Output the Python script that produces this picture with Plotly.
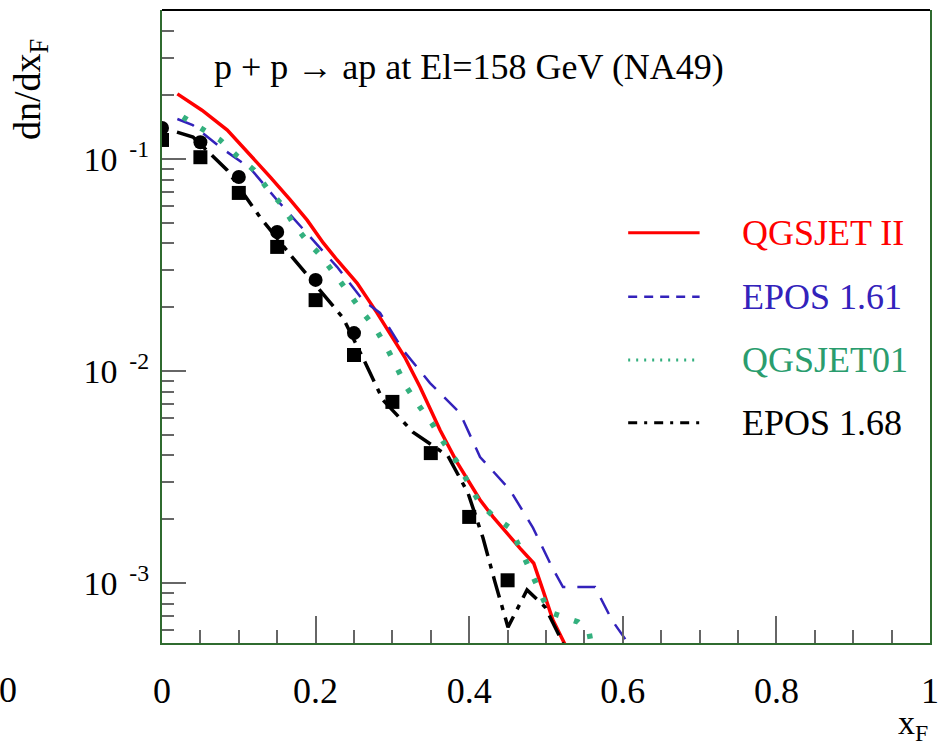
import plotly.graph_objects as go

# ---------------- data ----------------
qgs2_x = [0.020, 0.052, 0.085, 0.115, 0.141, 0.167, 0.189, 0.210, 0.228, 0.254, 0.280,
          0.316, 0.336, 0.362, 0.384, 0.414, 0.431, 0.466, 0.484, 0.496, 0.509, 0.525]
qgs2_y = [0.203, 0.170, 0.137, 0.1045, 0.0822, 0.0641, 0.0515, 0.0402, 0.0334, 0.0260, 0.0188,
          0.01164, 0.00841, 0.00527, 0.00372, 0.00247, 0.00205, 0.00146, 0.00124, 0.000926,
          0.000669, 0.000511]

epos161_x = [0.020, 0.040, 0.0755, 0.1146, 0.1497, 0.1888, 0.2279, 0.2617, 0.2839, 0.3138,
             0.3490, 0.3880, 0.4141, 0.4531, 0.4831, 0.5078, 0.5221, 0.5638, 0.5859, 0.6068]
epos161_y = [0.1545, 0.1446, 0.114, 0.0907, 0.0641, 0.0448, 0.0310, 0.0216, 0.0188, 0.01256,
             0.00877, 0.00633, 0.00393, 0.00275, 0.00182, 0.00119, 0.000957, 0.000957,
             0.000668, 0.000521]

qgs01_x = [0.0273, 0.0534, 0.0755, 0.0977, 0.1198, 0.1367, 0.1563, 0.1706, 0.1888, 0.2083,
           0.2253, 0.2422, 0.2591, 0.2773, 0.2930, 0.3060, 0.3190, 0.3359, 0.3529, 0.3672,
           0.3841, 0.3984, 0.4128, 0.4323, 0.4531, 0.4674, 0.4792, 0.5039, 0.5417, 0.5560,
           0.5586]
qgs01_y = [0.1578, 0.1386, 0.1230, 0.1033, 0.0887, 0.0729, 0.0607, 0.0499, 0.0410, 0.0345,
           0.0287, 0.0236, 0.0194, 0.0160, 0.01283, 0.01032, 0.00832, 0.00676, 0.00556,
           0.00457, 0.00372, 0.00299, 0.00241, 0.00205, 0.00182, 0.00143, 0.00114, 0.000730,
           0.000655, 0.000587, 0.000521]

epos168_x = [0.0195, 0.0404, 0.0846, 0.1276, 0.1706, 0.2357, 0.2617, 0.2878, 0.3268, 0.3724,
             0.3984, 0.4180, 0.4336, 0.4505, 0.4753, 0.4987, 0.5221]
epos168_y = [0.134, 0.127, 0.0888, 0.0532, 0.0341, 0.0178, 0.01151, 0.00729, 0.00515, 0.00397,
             0.00266, 0.00163, 0.00101, 0.000619, 0.000927, 0.000771, 0.000521]

circ_x = [0.0, 0.05, 0.10, 0.15, 0.20, 0.25]
circ_y = [0.140, 0.120, 0.0822, 0.0453, 0.0269, 0.0151]
sq_x = [0.0, 0.05, 0.10, 0.15, 0.20, 0.25, 0.30, 0.35, 0.40, 0.45]
sq_y = [0.123, 0.102, 0.0692, 0.0385, 0.0216, 0.0119, 0.00715, 0.00410, 0.00205, 0.00103]

legend_names = ["QGSJET II", "EPOS 1.61", "QGSJET01", "EPOS 1.68"]
y_tickvals = [0.1, 0.01, 0.001]
y_ticktext = ["10<sup>  -1</sup>", "10<sup>  -2</sup>", "10<sup>  -3</sup>"]
x_tickvals = [0, 0.2, 0.4, 0.6, 0.8, 1.0]
x_ticktext = ["0", "0.2", "0.4", "0.6", "0.8", "1"]

# ---------------- styles ----------------
FONT = "'Liberation Serif', 'Times New Roman', Times, serif"
RED = "#ff0000"
BLUE = "#3322bb"
GREEN = "#33b07e"
BLACK = "#000000"
AXGREEN = "#2f6b2f"

styles = [
    dict(color=RED, width=3.5, dash="solid"),
    dict(color=BLUE, width=2.5, dash="18px,12px"),
    dict(color=GREEN, width=5.5, dash="5px,16px"),
    dict(color=BLACK, width=3.5, dash="22px,8px,5px,8px"),
]
legend_styles = [
    dict(color=RED, width=3, dash="solid"),
    dict(color=BLUE, width=2.5, dash="9px,7px"),
    dict(color=GREEN, width=3, dash="2px,6px"),
    dict(color=BLACK, width=3, dash="9px,7px,3px,7px"),
]
series = [(qgs2_x, qgs2_y), (epos161_x, epos161_y), (qgs01_x, qgs01_y), (epos168_x, epos168_y)]
text_colors = [RED, BLUE, "#2a9d6e", BLACK]

fig = go.Figure()
for (xs, ys), st, nm in zip(series, styles, legend_names):
    fig.add_trace(go.Scatter(x=xs, y=ys, mode="lines", name=nm, line=st, showlegend=False))

fig.add_trace(go.Scatter(x=circ_x, y=circ_y, mode="markers", name="NA49 (circles)", cliponaxis=True,
                         marker=dict(symbol="circle", size=14, color=BLACK), showlegend=False))
fig.add_trace(go.Scatter(x=sq_x, y=sq_y, mode="markers", name="NA49 (squares)", cliponaxis=True,
                         marker=dict(symbol="square", size=14, color=BLACK), showlegend=False))

# minor y ticks
minor_y = []
for dec in [1e-4, 1e-3, 1e-2, 1e-1]:
    for k in range(2, 10):
        v = k * dec
        if 5.2e-4 <= v <= 0.505:
            minor_y.append(v)

# ---------------- manual legend ----------------
leg_y = [0.648, 0.547, 0.447, 0.348]
shapes = []
annotations = []
for yy, st, nm, tc in zip(leg_y, legend_styles, legend_names, text_colors):
    shapes.append(dict(type="line", xref="paper", yref="paper", x0=0.607, x1=0.700, y0=yy, y1=yy,
                       line=st))
    annotations.append(dict(xref="paper", yref="paper", x=0.753, y=yy, xanchor="left", yanchor="middle",
                            text=nm, showarrow=False, font=dict(family=FONT, size=36, color=tc)))

# top frame line (black)
shapes.append(dict(type="line", xref="paper", yref="paper", x0=0, x1=1, y0=1, y1=1,
                   line=dict(color=BLACK, width=2)))

annotations += [
    dict(xref="paper", yref="paper", x=0.065, y=0.91, xanchor="left", yanchor="middle",
         text="p + p \u2192 ap at El=158 GeV (NA49)", showarrow=False,
         font=dict(family=FONT, size=36, color=BLACK)),
    dict(xref="paper", yref="paper", x=-0.172, y=0.875, xanchor="center", yanchor="middle",
         text="dn/dx<sub>F</sub>", textangle=-90, showarrow=False,
         font=dict(family=FONT, size=38, color=BLACK)),
    dict(xref="paper", yref="paper", x=1.0, y=-0.13, xanchor="right", yanchor="middle",
         text="x<sub>F</sub>", showarrow=False, font=dict(family=FONT, size=34, color=BLACK)),
    dict(xref="paper", yref="paper", x=-0.201, y=-0.074, xanchor="center", yanchor="middle",
         text="0", showarrow=False, font=dict(family=FONT, size=36, color=BLACK)),
]

fig.update_layout(
    width=949, height=749,
    margin=dict(l=162, r=19, t=10, b=106),
    paper_bgcolor="white", plot_bgcolor="white",
    showlegend=False,
    shapes=shapes, annotations=annotations,
    font=dict(family=FONT, color=BLACK),
)

fig.update_xaxes(
    range=[0, 1], showgrid=False, zeroline=False,
    showline=True, linecolor=AXGREEN, linewidth=2, mirror=False,
    ticks="inside", ticklen=27, tickwidth=1.5, tickcolor="#666666",
    tickmode="array", tickvals=x_tickvals, ticktext=x_ticktext,
    tickfont=dict(family=FONT, size=36, color=BLACK),
    ticklabelstandoff=15,
    minor=dict(ticks="inside", ticklen=13, tickwidth=1.5, tickcolor="#666666", dtick=0.05, tick0=0),
)

fig.update_yaxes(
    type="log", range=[-3.283, -0.297], showgrid=False, zeroline=False,
    showline=True, linecolor=AXGREEN, linewidth=2, mirror=True,
    ticks="inside", ticklen=24, tickwidth=1.5, tickcolor="#666666",
    tickmode="array", tickvals=y_tickvals, ticktext=y_ticktext,
    tickfont=dict(family=FONT, size=34, color=BLACK),
    ticklabelstandoff=4,
    minor=dict(ticks="inside", ticklen=12, tickwidth=1.5, tickcolor="#666666",
               tickmode="array", tickvals=minor_y),
)

fig.write_html("out.html")
